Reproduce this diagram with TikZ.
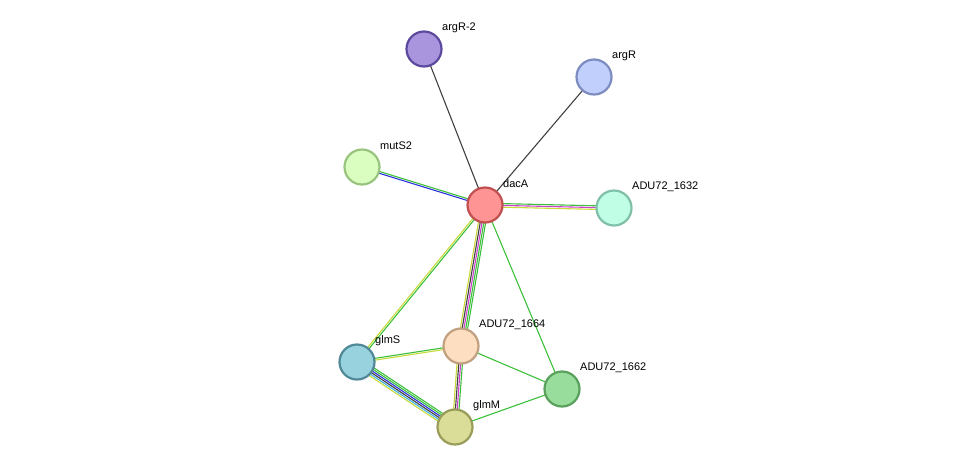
\documentclass[tikz,border=0pt]{standalone}
\usepackage{fontspec}
\setmainfont{Liberation Sans}
\usetikzlibrary{calc}
\definecolor{ey}{HTML}{C8D93A}
\definecolor{eg}{HTML}{3CC03C}
\definecolor{em}{HTML}{D040D0}
\definecolor{eb}{HTML}{3030E0}
\definecolor{ec}{HTML}{40B0E0}
\definecolor{ek}{HTML}{404040}
\newcommand\medge[4]{%
  \foreach \c [count=\i] in {#4} {%
    \pgfmathsetmacro\o{(\i-1-(#3-1)/2)*1.8}%
    \draw[\c,line width=1.1pt] ($(#1)!\o pt!90:(#2)$) -- ($(#2)!\o pt!-90:(#1)$);
  }}
\begin{document}
\begin{tikzpicture}[x=1pt,y=-1pt,
  prot/.style={circle,minimum size=35pt,inner sep=0pt,line width=2.2pt},
  lab/.style={anchor=west,font=\fontsize{11}{13}\selectfont,inner sep=0pt}]
\useasboundingbox (0,0) rectangle (976,472);
\coordinate (argR2) at (424,49);
\coordinate (argR) at (594,77);
\coordinate (mutS2) at (362,167);
\coordinate (dacA) at (485,205);
\coordinate (a1632) at (614,208);
\coordinate (a1664) at (461,346);
\coordinate (glmS) at (357,362);
\coordinate (a1662) at (562,389);
\coordinate (glmM) at (455,427);
\medge{dacA}{argR2}{1}{ek}
\medge{dacA}{argR}{1}{ek}
\medge{mutS2}{dacA}{2}{eb,eg}
\medge{dacA}{a1632}{3}{ey,em,eg}
\medge{dacA}{glmS}{2}{ey,eg}
\medge{dacA}{a1664}{5}{ey,ek,em,eg,eg}
\medge{dacA}{a1662}{1}{eg}
\medge{glmS}{a1664}{2}{ey,eg}
\medge{glmS}{glmM}{6}{ey,ec,ek,eb,eg,eg}
\medge{a1664}{glmM}{4}{ey,ek,em,eg}
\medge{a1664}{a1662}{1}{eg}
\medge{a1662}{glmM}{1}{eg}
\node[prot,fill={rgb,255:red,169;green,148;blue,222},draw={rgb,255:red,92;green,74;blue,158}] (nargR2) at (argR2) {};
\node[prot,fill={rgb,255:red,192;green,207;blue,251},draw={rgb,255:red,124;green,140;blue,192}] (nargR) at (argR) {};
\node[prot,fill={rgb,255:red,218;green,254;blue,192},draw={rgb,255:red,152;green,196;blue,126}] (nmutS2) at (mutS2) {};
\node[prot,fill={rgb,255:red,254;green,148;blue,148},draw={rgb,255:red,192;green,80;blue,80}] (ndacA) at (dacA) {};
\node[prot,fill={rgb,255:red,193;green,254;blue,230},draw={rgb,255:red,128;green,192;blue,168}] (n1632) at (a1632) {};
\node[prot,fill={rgb,255:red,254;green,222;blue,192},draw={rgb,255:red,192;green,160;blue,128}] (n1664) at (a1664) {};
\node[prot,fill={rgb,255:red,151;green,210;blue,222},draw={rgb,255:red,80;green,136;blue,152}] (nglmS) at (glmS) {};
\node[prot,fill={rgb,255:red,152;green,221;blue,155},draw={rgb,255:red,88;green,160;blue,92}] (n1662) at (a1662) {};
\node[prot,fill={rgb,255:red,217;green,221;blue,151},draw={rgb,255:red,152;green,156;blue,88}] (nglmM) at (glmM) {};
\node[lab] (largR2) at ($(argR2)+(18,-21)$) {argR-2};
\node[lab] (largR) at ($(argR)+(18,-21)$) {argR};
\node[lab] (lmutS2) at ($(mutS2)+(18,-21)$) {mutS2};
\node[lab] (ldacA) at ($(dacA)+(18,-21)$) {dacA};
\node[lab] (l1632) at ($(a1632)+(18,-21)$) {ADU72\_1632};
\node[lab] (l1664) at ($(a1664)+(18,-21)$) {ADU72\_1664};
\node[lab] (lglmS) at ($(glmS)+(18,-21)$) {glmS};
\node[lab] (l1662) at ($(a1662)+(18,-21)$) {ADU72\_1662};
\node[lab] (lglmM) at ($(glmM)+(18,-21)$) {glmM};
\end{tikzpicture}
\end{document}
